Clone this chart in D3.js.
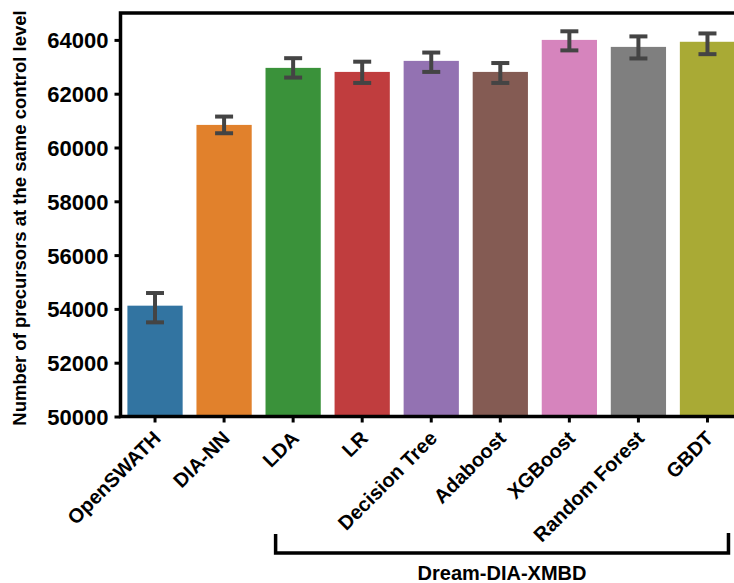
<!DOCTYPE html>
<meta charset="utf-8">
<style>
  body { margin: 0; background: #fff; }
  text { font-family: "Liberation Sans", Arial, sans-serif; font-weight: bold; }
</style>
<script src="https://d3js.org/d3.v7.min.js"></script>
<div id="chart"></div>
<script>

// methods on the x axis
var methods = ["OpenSWATH", "DIA-NN", "LDA", "LR", "Decision Tree", "Adaboost", "XGBoost", "Random Forest", "GBDT"];
// mean number of precursors and the error bar ends
var means = [54120, 60840, 62960, 62810, 63220, 62810, 64000, 63740, 63930];
var errLow = [53500, 60530, 62600, 62400, 62810, 62400, 63610, 63310, 63470];
var errHigh = [54590, 61150, 63320, 63190, 63530, 63140, 64320, 64130, 64240];
var colors = ["#3274a1", "#e1812c", "#3a923a", "#c03d3e", "#9372b2", "#845b53", "#d684bd", "#7f7f7f", "#a9aa35"];
var yTicks = [50000, 52000, 54000, 56000, 58000, 60000, 62000, 64000];
var groupLabel = "Dream-DIA-XMBD";

var W = 734, H = 583;
var plotL = 120.5, plotR = 742, plotT = 13, plotB = 416.5;

var svg = d3.select("#chart").append("svg")
  .attr("width", W)
  .attr("height", H);

var x = d3.scaleBand()
  .domain(methods)
  .range([plotL, plotR])
  .padding(0);

var y = d3.scaleLinear()
  .domain([50000, 65000])
  .range([plotB, plotT]);

var bw = x.bandwidth() * 0.8;

// bars
svg.selectAll(".bar")
  .data(methods)
  .enter()
  .append("rect")
    .attr("class", "bar")
    .attr("x", function(d) { return x(d) + (x.bandwidth() - bw) / 2; })
    .attr("y", function(d, i) { return y(means[i]); })
    .attr("width", bw)
    .attr("height", function(d, i) { return y(50000) - y(means[i]); })
    .style("fill", function(d, i) { return colors[i]; });

// error bars
var cx = function(d) { return x(d) + x.bandwidth() / 2; };
var err = svg.append("g").attr("stroke", "#444").attr("stroke-width", 4);
err.selectAll(".v").data(methods).enter().append("line")
  .attr("x1", cx).attr("x2", cx)
  .attr("y1", function(d, i) { return y(errLow[i]); })
  .attr("y2", function(d, i) { return y(errHigh[i]); });
err.selectAll(".lo").data(methods).enter().append("line")
  .attr("x1", function(d) { return cx(d) - 9; }).attr("x2", function(d) { return cx(d) + 9; })
  .attr("y1", function(d, i) { return y(errLow[i]); })
  .attr("y2", function(d, i) { return y(errLow[i]); });
err.selectAll(".hi").data(methods).enter().append("line")
  .attr("x1", function(d) { return cx(d) - 9; }).attr("x2", function(d) { return cx(d) + 9; })
  .attr("y1", function(d, i) { return y(errHigh[i]); })
  .attr("y2", function(d, i) { return y(errHigh[i]); });

// y axis
var yAxis = svg.append("g")
  .attr("transform", "translate(" + plotL + ",0)")
  .call(d3.axisLeft(y).tickValues(yTicks).tickSize(6).tickPadding(6).tickFormat(d3.format("d")));
yAxis.selectAll("text").style("font-size", "22px").attr("fill", "#000").attr("dy", "0.36em");

// x axis
var xAxis = svg.append("g")
  .attr("transform", "translate(0," + plotB + ")")
  .call(d3.axisBottom(x).tickSize(6).tickSizeOuter(0));
xAxis.selectAll("text")
  .style("font-size", "20px")
  .attr("fill", "#000")
  .attr("text-anchor", "end")
  .attr("dy", 0)
  .attr("y", 0)
  .attr("transform", "translate(7,23) rotate(-45)");

svg.selectAll(".domain").remove();
svg.selectAll(".tick line").attr("stroke", "#000").attr("stroke-width", 3);

// spines
svg.append("path")
  .attr("d", "M" + (W + 10) + "," + plotT + "H" + plotL + "V" + plotB + "H" + (W + 10))
  .attr("fill", "none")
  .attr("stroke", "#000")
  .attr("stroke-width", 3.5);

// y label
svg.append("text")
  .attr("transform", "translate(26," + 218 + ") rotate(-90)")
  .attr("text-anchor", "middle")
  .style("font-size", "18.5px")
  .text("Number of precursors at the same control level");

// bracket under the Dream-DIA-XMBD methods
var bx0 = x("LDA") + 17, bx1 = x("GBDT") + x.bandwidth() / 2 + 21;
svg.append("path")
  .attr("d", "M" + bx0 + ",534V553H" + bx1 + "V533")
  .attr("fill", "none")
  .attr("stroke", "#000")
  .attr("stroke-width", 3.5);

svg.append("text")
  .attr("x", (bx0 + bx1) / 2)
  .attr("y", 580)
  .attr("text-anchor", "middle")
  .style("font-size", "20px")
  .text(groupLabel);

</script>
